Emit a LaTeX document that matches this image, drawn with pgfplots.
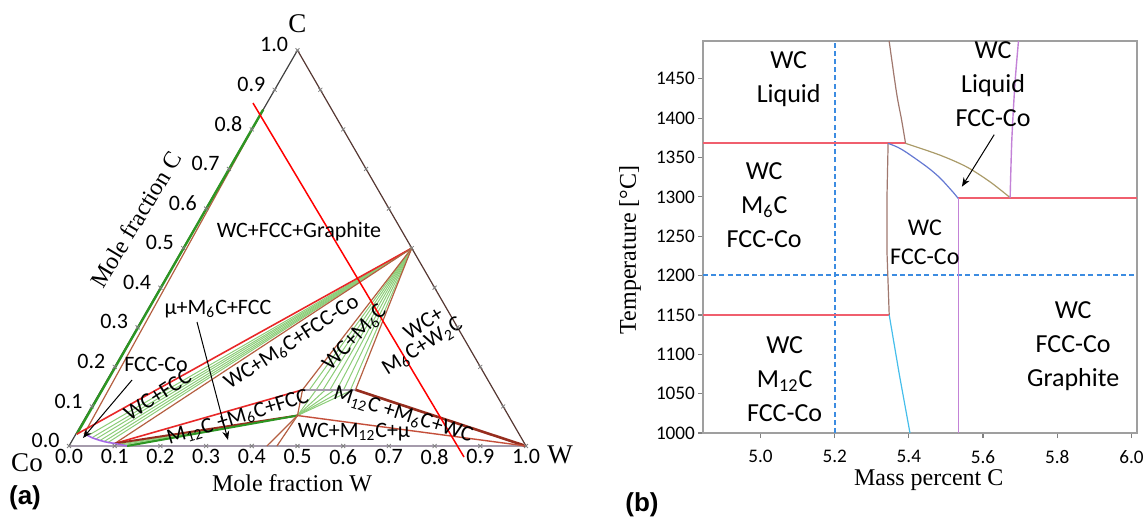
\documentclass[border=0pt]{standalone}
\usepackage{pgfplots}
\pgfplotsset{compat=1.18}
\usepackage{fontspec}
\setmainfont{Carlito}
\newfontfamily\serif{Liberation Serif}
\newfontfamily\lsans{Liberation Sans}
\usetikzlibrary{arrows.meta}

\definecolor{tred}{RGB}{232,40,40}
\definecolor{tbrown}{RGB}{180,95,65}
\definecolor{tdred}{RGB}{150,45,30}
\definecolor{tgreen}{RGB}{45,150,35}
\definecolor{tlgreen}{RGB}{140,205,120}
\definecolor{tpurple}{RGB}{165,105,230}
\definecolor{tedge}{RGB}{165,155,172}
\definecolor{tright}{RGB}{85,55,50}
\definecolor{pred}{RGB}{240,95,110}
\definecolor{pbrown}{RGB}{160,120,110}
\definecolor{pcyan}{RGB}{70,190,235}
\definecolor{pblue}{RGB}{100,120,210}
\definecolor{polive}{RGB}{170,155,105}
\definecolor{ppurple}{RGB}{195,130,215}
\definecolor{pdash}{RGB}{60,140,225}

% ternary (W, C) mole fractions -> cartesian
\newcommand{\tern}[2][]{\addplot[#1] table[x expr=\thisrow{W}+0.5*\thisrow{C}, y expr=0.8660254*\thisrow{C}, row sep=\\]{#2};}

\begin{document}
\begin{tikzpicture}[
  tl/.style={font=\fontsize{11}{12}\selectfont, inner sep=0pt, anchor=north, yshift=-1.5pt},
  ll/.style={font=\fontsize{11}{12}\selectfont, inner sep=0pt, anchor=east, xshift=-4.5pt, yshift=2.7pt},
  rl/.style={font=\fontsize{11}{13}\selectfont, inner sep=0pt},
  bl/.style={font=\fontsize{13}{17}\selectfont, align=center, inner sep=0pt}]
\path[use as bounding box] (0,0) rectangle (573pt,258pt);

% ---------------- (a) ternary section ----------------
\begin{axis}[at={(-11.2pt,0.725pt)}, anchor=south west, scale only axis,
  width=319.9pt, height=251.35pt, xmin=-0.2, xmax=1.2, ymin=-0.15, ymax=0.95,
  axis lines=none, clip=false]

% triangle edges
\tern[tedge, line width=1pt]{W C\\ 0 0\\ 1 0\\}
\tern[tright, line width=0.6pt]{W C\\ 1 0\\ 0 1\\}
\tern[black!75, line width=0.6pt]{W C\\ 0 0\\ 0 1\\}
% edge tick marks
\tern[only marks, mark=x, mark size=1.4pt, gray]{W C\\ 0 0\\ 0.1 0\\ 0.2 0\\ 0.3 0\\ 0.4 0\\ 0.5 0\\ 0.6 0\\ 0.7 0\\ 0.8 0\\ 0.9 0\\ 1 0\\}
\tern[only marks, mark=x, mark size=1.4pt, gray]{W C\\ 0 0.1\\ 0 0.2\\ 0 0.3\\ 0 0.4\\ 0 0.5\\ 0 0.6\\ 0 0.7\\ 0 0.8\\ 0 0.9\\ 0 1\\}
\tern[only marks, mark=x, mark size=1.4pt, gray]{W C\\ 0.9 0.1\\ 0.8 0.2\\ 0.7 0.3\\ 0.6 0.4\\ 0.5 0.5\\ 0.4 0.6\\ 0.3 0.7\\ 0.2 0.8\\ 0.1 0.9\\}

% left: FCC + graphite tie region
\tern[tbrown, line width=0.6pt]{W C\\ 0.018 0.030\\ 0 0.85\\}
\tern[tgreen, line width=1.2pt]{W C\\ 0.002 0.030\\ 0 0.85\\}

% WC+FCC tie lines
\tern[tlgreen, line width=0.5pt]{W C\\ 0.028 0.026\\ 0.5 0.5\\}
\tern[tlgreen, line width=0.5pt]{W C\\ 0.040 0.021\\ 0.5 0.5\\}
\tern[tlgreen, line width=0.5pt]{W C\\ 0.050 0.0175\\ 0.5 0.5\\}
\tern[tlgreen, line width=0.5pt]{W C\\ 0.061 0.014\\ 0.5 0.5\\}
\tern[tlgreen, line width=0.5pt]{W C\\ 0.071 0.011\\ 0.5 0.5\\}
\tern[tlgreen, line width=0.5pt]{W C\\ 0.081 0.009\\ 0.5 0.5\\}
\tern[tred, line width=0.8pt]{W C\\ 0.002 0.030\\ 0.5 0.5\\}
\tern[tbrown, line width=0.6pt]{W C\\ 0.097 0.0065\\ 0.5 0.5\\}

% WC+M6C tie lines
\tern[tlgreen, line width=0.5pt]{W C\\ 0.455 0.142\\ 0.5 0.5\\}
\tern[tlgreen, line width=0.5pt]{W C\\ 0.470 0.142\\ 0.5 0.5\\}
\tern[tlgreen, line width=0.5pt]{W C\\ 0.485 0.142\\ 0.5 0.5\\}
\tern[tlgreen, line width=0.5pt]{W C\\ 0.500 0.142\\ 0.5 0.5\\}
\tern[tlgreen, line width=0.5pt]{W C\\ 0.515 0.142\\ 0.5 0.5\\}
\tern[tlgreen, line width=0.5pt]{W C\\ 0.530 0.142\\ 0.5 0.5\\}
\tern[tlgreen, line width=0.5pt]{W C\\ 0.545 0.142\\ 0.5 0.5\\}
% M12C+M6C fan
\tern[tlgreen, line width=0.5pt]{W C\\ 0.4615 0.077\\ 0.47 0.142\\}
\tern[tlgreen, line width=0.5pt]{W C\\ 0.4615 0.077\\ 0.49 0.142\\}
\tern[tlgreen, line width=0.5pt]{W C\\ 0.4615 0.077\\ 0.51 0.142\\}
\tern[tlgreen, line width=0.5pt]{W C\\ 0.4615 0.077\\ 0.53 0.142\\}
\tern[tlgreen, line width=0.5pt]{W C\\ 0.4615 0.077\\ 0.55 0.142\\}
% M12C+FCC tie lines
\tern[tlgreen, line width=0.5pt]{W C\\ 0.105 0.004\\ 0.4615 0.077\\}
\tern[tlgreen, line width=0.5pt]{W C\\ 0.112 0.0025\\ 0.4615 0.077\\}
\tern[tlgreen, line width=0.5pt]{W C\\ 0.119 0.001\\ 0.4615 0.077\\}

% phase boundaries
\tern[tbrown, line width=0.6pt]{W C\\ 0.5 0.5\\ 0.440 0.142\\ 0.4615 0.077\\}
\tern[tbrown, line width=0.6pt]{W C\\ 0.5 0.5\\ 0.556 0.142\\}
\tern[tedge, line width=0.9pt]{W C\\ 0.440 0.142\\ 0.556 0.142\\}
\tern[tdred, line width=1.3pt]{W C\\ 0.556 0.142\\ 1 0\\}
\tern[tbrown!70!tred, line width=0.7pt]{W C\\ 0.4615 0.077\\ 1 0\\}
\tern[tred, line width=0.8pt]{W C\\ 0.097 0.0065\\ 0.440 0.142\\}
\tern[tdred, line width=1pt]{W C\\ 0.097 0.0065\\ 0.4615 0.077\\}
\tern[tgreen, line width=1pt]{W C\\ 0.127 0\\ 0.4615 0.077\\}
\tern[tbrown, line width=0.6pt]{W C\\ 0.4615 0.077\\ 0.433 0\\}
\tern[tbrown, line width=0.6pt]{W C\\ 0.4615 0.077\\ 0.455 0\\}
\tern[tpurple, line width=0.8pt, smooth]{W C\\ 0.020 0.030\\ 0.040 0.021\\ 0.061 0.014\\ 0.081 0.009\\ 0.097 0.0065\\ 0.127 0\\}

% composition line
\tern[red, line width=0.75pt]{W C\\ -0.0307 0.8666\\ 0.8782 -0.0278\\}

% tick labels
\node[tl] at (axis cs:0.0,0) {0.0};
\node[tl] at (axis cs:0.1,0) {0.1};
\node[tl] at (axis cs:0.2,0) {0.2};
\node[tl] at (axis cs:0.3,0) {0.3};
\node[tl] at (axis cs:0.4,0) {0.4};
\node[tl] at (axis cs:0.5,0) {0.5};
\node[tl] at (axis cs:0.6,0) {0.6};
\node[tl] at (axis cs:0.7,0) {0.7};
\node[tl] at (axis cs:0.8,0) {0.8};
\node[tl] at (axis cs:0.9,0) {0.9};
\node[tl] at (axis cs:1.0,0) {1.0};
\node[ll] at (axis cs:0,0) {0.0};
\node[ll] at (axis cs:0.05,0.0866) {0.1};
\node[ll] at (axis cs:0.10,0.1732) {0.2};
\node[ll] at (axis cs:0.15,0.2598) {0.3};
\node[ll] at (axis cs:0.20,0.3464) {0.4};
\node[ll] at (axis cs:0.25,0.4330) {0.5};
\node[ll] at (axis cs:0.30,0.5196) {0.6};
\node[ll] at (axis cs:0.35,0.6062) {0.7};
\node[ll] at (axis cs:0.40,0.6928) {0.8};
\node[ll] at (axis cs:0.45,0.7794) {0.9};
\node[ll] at (axis cs:0.50,0.8660) {1.0};

% axis titles and corners
\node[font=\serif\fontsize{13.5}{15}\selectfont] at (axis cs:0.5,0.9234) {C};
\node[font=\serif\fontsize{13.5}{15}\selectfont] at (axis cs:-0.0919,-0.0372) {Co};
\node[font=\serif\fontsize{13.5}{15}\selectfont] at (axis cs:1.0744,-0.0197) {W};
\node[font=\serif\fontsize{12}{14}\selectfont] at (axis cs:0.488,-0.081) {Mole fraction W};
\node[font=\serif\fontsize{12}{14}\selectfont, rotate=59] at (axis cs:0.1466,0.4960) {Mole fraction C};

% region labels
\node[rl] at (axis cs:0.5033,0.4683) {WC+FCC+Graphite};
\node[rl] at (axis cs:0.326,0.2998) {μ+M\textsubscript{6}C+FCC};
\node[rl] at (axis cs:0.1904,0.1794) {FCC-Co};
\node[rl, rotate=33] at (axis cs:0.1937,0.1116) {WC+FCC};
\node[rl, rotate=33] at (axis cs:0.488,0.2254) {WC+M\textsubscript{6}C+FCC-Co};
\node[rl, rotate=46] at (axis cs:0.6258,0.2363) {WC+M\textsubscript{6}C};
\node[rl, rotate=32] at (axis cs:0.7753,0.2691) {WC+};
\node[rl, rotate=32] at (axis cs:0.7740,0.2173) {M\textsubscript{6}C+W\textsubscript{2}C};
\node[rl, rotate=17] at (axis cs:0.3698,0.0613) {M\textsubscript{12}C +M\textsubscript{6}C+FCC};
\node[rl, rotate=-17.6] at (axis cs:0.7309,0.0678) {M\textsubscript{12}C +M\textsubscript{6}C+WC};
\node[rl] at (axis cs:0.6236,0.0306) {WC+M\textsubscript{12}C+μ};

\draw[black, line width=0.5pt, -{Stealth[length=4.5pt,width=3.5pt]}] (axis cs:0.1379,0.1444) -- (axis cs:0.0306,0.0175);
\draw[black, line width=0.5pt, -{Stealth[length=4.5pt,width=3.5pt]}] (axis cs:0.2801,0.2713) -- (axis cs:0.3479,0.0131);
\end{axis}

% ---------------- (b) isopleth ----------------
\begin{axis}[at={(351.5pt,41.5pt)}, anchor=south west, scale only axis,
  width=217pt, height=196pt, xmin=4.845, xmax=6.015, ymin=1000, ymax=1498,
  xtick={5.0,5.2,5.4,5.6,5.8,6.0}, ytick={1000,1050,...,1450},
  xtick pos=lower, ytick pos=left, tick align=outside, major tick length=2.5pt,
  every tick/.style={gray, line width=0.6pt},
  axis line style={gray!75, line width=0.9pt},
  tick label style={font=\fontsize{9.6}{12}\selectfont},
  /pgf/number format/assume math mode=true,
  xticklabel style={yshift=-2.5pt, /pgf/number format/.cd, fixed, fixed zerofill, precision=1},
  yticklabel style={xshift=2pt, /pgf/number format/.cd, fixed, 1000 sep={}},
  clip=false]

\addplot[pdash, line width=1pt, dash pattern=on 2.5pt off 1.6pt] coordinates {(5.2,1000) (5.2,1498)};
\addplot[pdash, line width=1pt, dash pattern=on 2.5pt off 1.6pt] coordinates {(4.845,1200.5) (6.015,1200.5)};
\addplot[pred, line width=1pt] coordinates {(4.845,1368.5) (5.391,1368.5)};
\addplot[pred, line width=1pt] coordinates {(4.845,1150) (5.347,1150)};
\addplot[pred, line width=1pt] coordinates {(5.533,1298) (6.015,1298)};
\addplot[pbrown, line width=0.6pt, smooth] coordinates {(5.3468,1498) (5.3668,1432) (5.3803,1398) (5.391,1368)};
\addplot[pbrown, line width=0.6pt] coordinates {(5.344,1368) (5.341,1300) (5.341,1230) (5.347,1150)};
\addplot[pcyan, line width=0.6pt] coordinates {(5.347,1150) (5.374,1075) (5.403,1000)};
\addplot[pblue, line width=0.6pt, smooth] coordinates {(5.344,1368) (5.370,1363) (5.395,1356) (5.449,1338) (5.484,1324) (5.519,1306) (5.533,1298)};
\addplot[polive, line width=0.6pt, smooth] coordinates {(5.391,1368) (5.484,1353) (5.556,1338) (5.619,1319) (5.673,1299)};
\addplot[ppurple, line width=0.7pt] coordinates {(5.533,1298) (5.533,1000)};
\addplot[ppurple, line width=0.7pt, smooth] coordinates {(5.673,1299) (5.6775,1372) (5.686,1444) (5.6955,1498)};

\node[bl] at (axis cs:5.076,1449) {WC\\Liquid};
\node[bl] at (axis cs:5.01,1289) {WC\\M\textsubscript{6}C\\FCC-Co};
\node[bl] at (axis cs:5.065,1068) {WC\\M\textsubscript{12}C\\FCC-Co};
\node[bl] at (axis cs:5.627,1443) {WC\\Liquid\\FCC-Co};
\node[bl] at (axis cs:5.843,1110) {WC\\FCC-Co\\Graphite};
\node[font=\fontsize{12}{14.5}\selectfont, align=center, inner sep=0pt] at (axis cs:5.443,1242) {WC\\FCC-Co};
\draw[black, line width=0.5pt, -{Stealth[length=4.5pt,width=3.5pt]}] (axis cs:5.63,1379) -- (axis cs:5.543,1313);

\node[font=\serif\fontsize{12}{14}\selectfont, yshift=-23.5pt] at (rel axis cs:0.52,0) {Mass percent C};
\node[font=\serif\fontsize{12}{14}\selectfont, xshift=-36.5pt, rotate=90] at (rel axis cs:0,0.467) {Temperature [°C]};
\end{axis}

\node[font=\lsans\bfseries\fontsize{13}{15}\selectfont] at (12.5pt,9pt) {(a)};
\node[font=\lsans\bfseries\fontsize{13}{15}\selectfont] at (321pt,5.5pt) {(b)};
\end{tikzpicture}
\end{document}
